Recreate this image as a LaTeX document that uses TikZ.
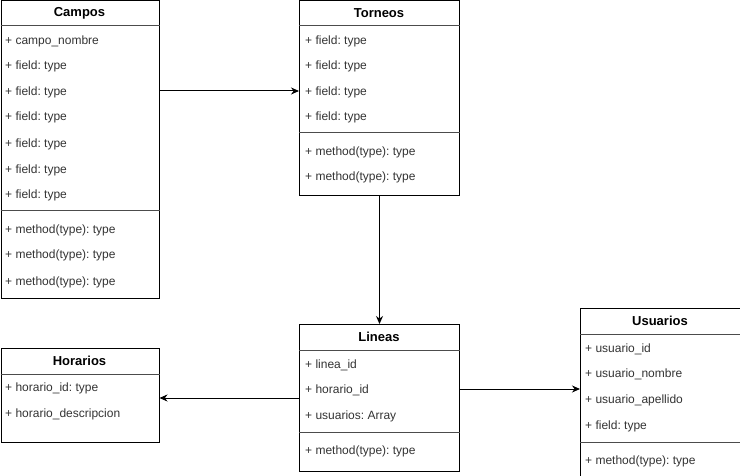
\documentclass[tikz,border=0pt]{standalone}
\usepackage{fontspec}
\setmainfont{Liberation Sans}
\frenchspacing
\usetikzlibrary{arrows.meta}
\definecolor{rowtext}{HTML}{333333}
\tikzstyle{classbox}=[
	draw=black,
	shape=rectangle,
	line width=1pt,
	inner sep=0pt,
	anchor=north west
]
\tikzstyle{title} = [font=\bfseries\fontsize{13}{15}\selectfont, text=black]
\tikzstyle{row} = [anchor=west, inner sep=0pt, yshift=-1.5pt, font=\fontsize{12}{14}\selectfont, text=rowtext]
\tikzstyle{sep} = [draw=black!70, line width=1pt]
\tikzstyle{arr} = [draw, line width=1pt, -{Stealth[length=8pt,width=7pt]}]

\begin{document}
\begin{tikzpicture}[x=1pt, y=-1pt]
			\useasboundingbox (0,0) rectangle (740,476);

			% classes
			\node[classbox, minimum width=158pt, minimum height=298pt] (campos) at (0.5,0.5) {};
			\node[classbox, minimum width=160pt, minimum height=195pt] (torneos) at (299,0.5) {};
			\node[classbox, minimum width=160pt, minimum height=147pt] (lineas) at (299,324) {};
			\node[classbox, minimum width=158pt, minimum height=94pt] (horarios) at (0.5,348) {};
			\node[classbox, minimum width=165pt, minimum height=180pt] (usuarios) at (580,308) {};

			\node[title] at (79.5,13) {Campos};
			\node[title] at (379,13) {Torneos};
			\node[title] at (379,337) {Lineas};
			\node[title] at (79.5,361) {Horarios};
			\node[title] at (660,321) {Usuarios};

			\draw[sep] (campos.west |- 0,26) -- (campos.east |- 0,26);
			\draw[sep] (campos.west |- 0,211) -- (campos.east |- 0,211);
			\draw[sep] (torneos.west |- 0,26) -- (torneos.east |- 0,26);
			\draw[sep] (torneos.west |- 0,133) -- (torneos.east |- 0,133);
			\draw[sep] (lineas.west |- 0,350) -- (lineas.east |- 0,350);
			\draw[sep] (lineas.west |- 0,432) -- (lineas.east |- 0,432);
			\draw[sep] (horarios.west |- 0,374) -- (horarios.east |- 0,374);
			\draw[sep] (usuarios.west |- 0,334) -- (usuarios.east |- 0,334);
			\draw[sep] (usuarios.west |- 0,442) -- (usuarios.east |- 0,442);

			% rows
			\foreach \y/\t [count=\i] in {40/+ campo\_nombre, 65/+ field: type, 91/+ field: type,
				116/+ field: type, 143/+ field: type, 169/+ field: type, 194/+ field: type,
				229/+ method(type): type, 254/+ method(type): type, 281/+ method(type): type}
				\node[row] (c\i) at (5,\y) {\t};
			\foreach \y/\t [count=\i] in {40/+ field: type, 65/+ field: type, 91/+ field: type,
				116/+ field: type, 151/+ method(type): type, 176/+ method(type): type}
				\node[row] (t\i) at (305,\y) {\t};
			\foreach \y/\t [count=\i] in {364/+ linea\_id, 389/+ horario\_id,
				415/+ usuarios: Array, 450/+ method(type): type}
				\node[row] (l\i) at (305,\y) {\t};
			\foreach \y/\t [count=\i] in {387/+ horario\_id: type, 413/+ horario\_descripcion}
				\node[row] (h\i) at (5,\y) {\t};
			\foreach \y/\t [count=\i] in {348/+ usuario\_id, 373/+ usuario\_nombre,
				399/+ usuario\_apellido, 425/+ field: type, 460/+ method(type): type}
				\node[row] (u\i) at (585,\y) {\t};

			% links
			\coordinate (ch) at (0,398);
			\coordinate (cf) at (0,91);
			\coordinate (cu) at (0,389);
			\path[arr] (campos.east |- cf) -- (torneos.west |- cf);
			\path[arr] (torneos.south) -- (lineas.north);
			\path[arr] (lineas.west |- ch) -- (horarios.east |- ch);
			\path[arr] (lineas.east |- cu) -- (usuarios.west |- cu);

			\end{tikzpicture}
\end{document}
